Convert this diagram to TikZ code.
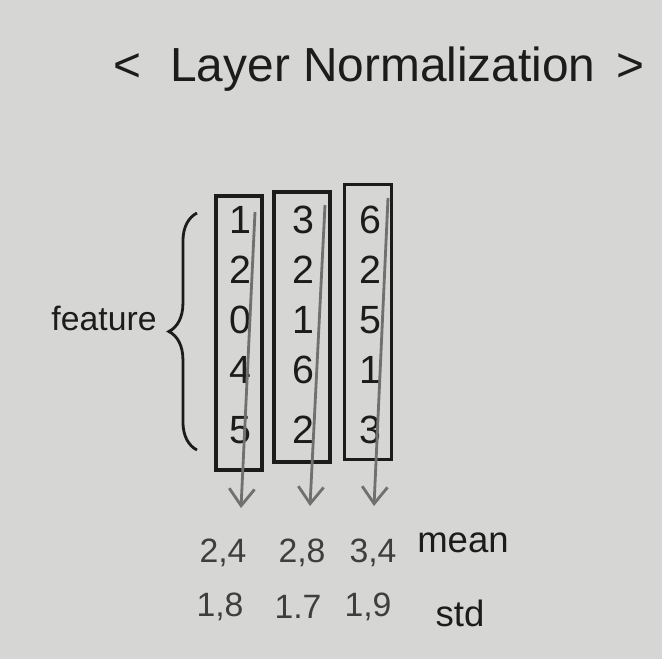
\documentclass[tikz,border=0pt]{standalone}
\usepackage{fontspec}
\setmainfont{Liberation Sans}
\usepackage{tikz}
\usetikzlibrary{decorations.pathreplacing, arrows.meta, positioning}

\definecolor{paper}{RGB}{214,214,212}
\definecolor{pen}{RGB}{28,28,28}
\definecolor{pencil}{RGB}{112,112,112}
\definecolor{graphite}{RGB}{62,62,62}

\tikzset{
	column/.style={draw=pen, line width=2.4pt, inner sep=0},
	digit/.style={font=\fontsize{28}{28}\selectfont, text=pen},
	stat/.style={font=\fontsize{24}{24}\selectfont, text=graphite},
	word/.style={font=\fontsize{26}{26}\selectfont, text=pen},
	pass/.style={draw=pencil, line width=2pt, -{Straight Barb[length=12pt, width=18pt, line width=2pt]}}
}

\begin{document}
\begin{tikzpicture}[x=0.025cm, y=-0.025cm]
	\useasboundingbox[fill=paper] (0,0) rectangle (662,659);
	% Title, columns and labels:
	\node[font=\fontsize{34}{34}\selectfont, text=pen] (title) at (379,69) {<\,\, Layer Normalization \,>};
	\node[column, minimum width=1.15cm, minimum height=6.85cm] (col1) at (239,333) {};
	\node[column, minimum width=1.4cm, minimum height=6.75cm] (col2) at (302,327) {};
	\node[column, minimum width=1.175cm, minimum height=6.875cm] (col3) at (368,322) {};
	\foreach \v [count=\r] in {1,2,0,4,5}
		\node[digit] (a\r) at (240,{170+50*\r+(\r==5)*10}) {\v};
	\foreach \v [count=\r] in {3,2,1,6,2}
		\node[digit] (b\r) at (303,{170+50*\r+(\r==5)*10}) {\v};
	\foreach \v [count=\r] in {6,2,5,1,3}
		\node[digit] (c\r) at (370,{170+50*\r+(\r==5)*10}) {\v};
	\draw[pen, line width=2pt, decorate, decoration={brace, amplitude=20pt}] (197,450) -- (197,213);
	\node[word, font=\fontsize{24}{24}\selectfont] (feature) at (104,318) {feature};
	\node[stat] (m1) at (223,553) {2,4};
	\node[stat] (m2) at (302,553) {2,8};
	\node[stat] (m3) at (373,553) {3,4};
	\node[stat] (s1) at (220,607) {1,8};
	\node[stat] (s2) at (298,607) {1.7};
	\node[stat] (s3) at (368,607) {1,9};
	\node[word] (mean) at (463,543) {mean};
	\node[word] (std) at (460,613) {std};
	\coordinate (t1) at (255,212);
	\coordinate (t2) at (325,205);
	\coordinate (t3) at (388,198);
	\coordinate (h1) at (241,508);
	\coordinate (h2) at (310,506);
	\coordinate (h3) at (374,506);
	\foreach \i in {1,2,3}
		\draw[pass] (t\i) -- (h\i);
\end{tikzpicture}
\end{document}
